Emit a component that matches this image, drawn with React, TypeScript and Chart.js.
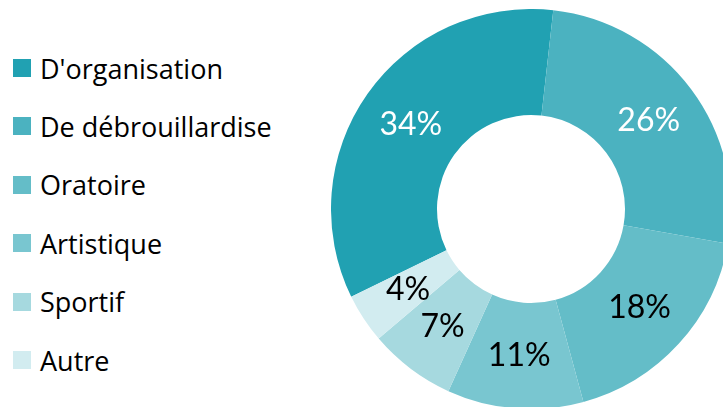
import React, { useEffect, useRef } from "react";
import { Chart, registerables } from "chart.js";

Chart.register(...registerables);

const categories = ["D'organisation", "De débrouillardise", "Oratoire", "Artistique", "Sportif", "Autre"];
const values = [34, 26, 18, 11, 7, 4];
const colors = ["#21A1B2", "#4BB2C0", "#64BDC8", "#79C6D0", "#A6D9DF", "#D2ECF0"];
const labelColors = ["#FFFFFF", "#FFFFFF", "#000000", "#000000", "#000000", "#000000"];

const FONT = "Lato, 'Open Sans', sans-serif";
const LEGEND_FONT = "'Open Sans', sans-serif";

const sliceLabels = {
  id: "sliceLabels",
  afterDatasetsDraw(chart: any) {
    const { ctx } = chart;
    const meta = chart.getDatasetMeta(0);
    ctx.save();
    ctx.font = `32px ${FONT}`;
    ctx.textAlign = "center";
    ctx.textBaseline = "middle";
    meta.data.forEach((arc: any, i: number) => {
      const p = arc.getCenterPoint();
      ctx.fillStyle = labelColors[i];
      ctx.fillText(`${chart.data.datasets[0].data[i]}%`, p.x, p.y);
    });
    ctx.restore();
  },
};

export default function App() {
  const ref = useRef<HTMLCanvasElement>(null);
  useEffect(() => {
    if (!ref.current) return;
    const chart = new Chart(ref.current, {
      type: "doughnut",
      data: {
        labels: categories,
        datasets: [
          {
            data: values,
            backgroundColor: colors,
            borderWidth: 0,
          },
        ],
      },
      options: {
        responsive: false,
        animation: false,
        rotation: 244,
        cutout: "47%",
        layout: { padding: 0 },
        plugins: {
          legend: { display: false },
          tooltip: { enabled: false },
        },
      },
      plugins: [sliceLabels],
    });
    return () => chart.destroy();
  }, []);

  return (
    <div
      style={{
        position: "fixed",
        left: 0,
        top: 0,
        width: 723,
        height: 407,
        overflow: "hidden",
        background: "#fff",
      }}
    >
      {categories.map((c, i) => (
        <div
          key={c}
          style={{
            position: "absolute",
            left: 13,
            top: 68 + i * 58.4 - 20,
            height: 40,
            display: "flex",
            alignItems: "center",
            whiteSpace: "nowrap",
          }}
        >
          <span style={{ width: 18, height: 18, background: colors[i], display: "inline-block" }} />
          <span style={{ marginLeft: 9, fontFamily: LEGEND_FONT, fontSize: 27, color: "#000" }}>{c}</span>
        </div>
      ))}
      <canvas
        ref={ref}
        width={400}
        height={400}
        style={{ position: "absolute", left: 331, top: 9, width: 400, height: 400 }}
      />
    </div>
  );
}
